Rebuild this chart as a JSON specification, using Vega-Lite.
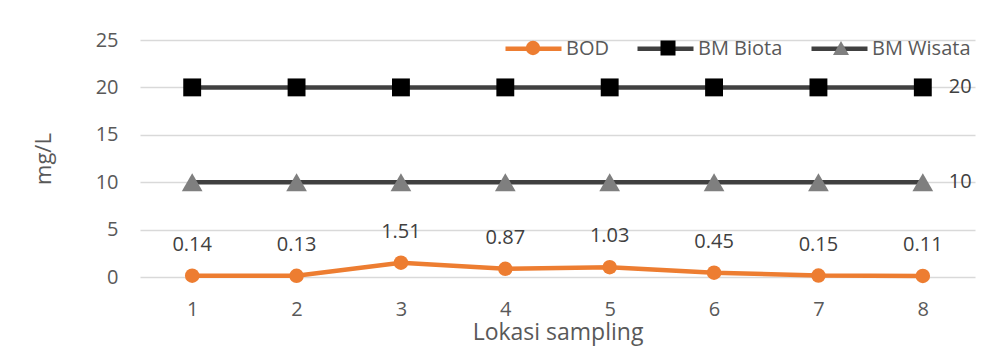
{
  "$schema": "https://vega.github.io/schema/vega-lite/v6.json",
  "autosize": {"type": "none"},
  "padding": {"left": 140, "top": 40, "right": 21, "bottom": 86},
  "width": 835,
  "height": 237,
  "background": "white",
  "config": {
    "view": {"stroke": null},
    "font": "Open Sans",
    "axis": {"labelFont": "Open Sans", "titleFont": "Open Sans", "labelColor": "#595959", "titleColor": "#595959", "titleFontWeight": "normal"},
    "legend": {"labelFont": "Open Sans"}
  },
  "data": {
    "values": [
      {"loc": 1, "series": "BOD", "value": 0.14},
      {"loc": 2, "series": "BOD", "value": 0.13},
      {"loc": 3, "series": "BOD", "value": 1.51},
      {"loc": 4, "series": "BOD", "value": 0.87},
      {"loc": 5, "series": "BOD", "value": 1.03},
      {"loc": 6, "series": "BOD", "value": 0.45},
      {"loc": 7, "series": "BOD", "value": 0.15},
      {"loc": 8, "series": "BOD", "value": 0.11},
      {"loc": 1, "series": "BM Biota", "value": 20},
      {"loc": 2, "series": "BM Biota", "value": 20},
      {"loc": 3, "series": "BM Biota", "value": 20},
      {"loc": 4, "series": "BM Biota", "value": 20},
      {"loc": 5, "series": "BM Biota", "value": 20},
      {"loc": 6, "series": "BM Biota", "value": 20},
      {"loc": 7, "series": "BM Biota", "value": 20},
      {"loc": 8, "series": "BM Biota", "value": 20},
      {"loc": 1, "series": "BM Wisata", "value": 10},
      {"loc": 2, "series": "BM Wisata", "value": 10},
      {"loc": 3, "series": "BM Wisata", "value": 10},
      {"loc": 4, "series": "BM Wisata", "value": 10},
      {"loc": 5, "series": "BM Wisata", "value": 10},
      {"loc": 6, "series": "BM Wisata", "value": 10},
      {"loc": 7, "series": "BM Wisata", "value": 10},
      {"loc": 8, "series": "BM Wisata", "value": 10}
    ]
  },
  "encoding": {
    "x": {
      "field": "loc", "type": "ordinal",
      "scale": {"type": "point", "padding": 0.5},
      "axis": {"labelAngle": 0, "domain": false, "ticks": false, "labelFontSize": 20, "labelPadding": 22, "title": "Lokasi sampling", "titleFontSize": 23, "titlePadding": 2}
    },
    "y": {
      "field": "value", "type": "quantitative",
      "scale": {"domain": [0, 25], "nice": false},
      "axis": {"values": [0, 5, 10, 15, 20, 25], "domain": false, "ticks": false, "gridColor": "#D9D9D9", "gridWidth": 1.3, "labelFontSize": 20, "labelPadding": 22, "title": "mg/L", "titleFontSize": 22, "titlePadding": 40}
    }
  },
  "layer": [
    {
      "mark": {"type": "line", "strokeWidth": 4.5},
      "encoding": {
        "stroke": {
          "field": "series", "type": "nominal",
          "scale": {"domain": ["BOD", "BM Biota", "BM Wisata"], "range": ["#ED7D31", "#404040", "#404040"]},
          "legend": {"title": null, "orient": "none", "direction": "horizontal", "legendX": 363, "legendY": -22, "symbolType": "stroke", "symbolSize": 3136, "symbolStrokeWidth": 4.5, "labelFontSize": 20, "labelColor": "#595959", "labelOffset": 2, "columnPadding": 19, "padding": 0}
        }
      }
    },
    {
      "mark": {"type": "point", "filled": true, "opacity": 1},
      "encoding": {
        "fill": {
          "field": "series", "type": "nominal",
          "sort": ["BOD", "BM Biota", "BM Wisata"],
          "scale": {"range": ["#ED7D31", "#000000", "#7F7F7F"]},
          "legend": {"title": null, "values": ["BM Wisata"], "orient": "none", "legendX": 691, "legendY": -2, "symbolType": "triangle-up", "symbolSize": 256, "symbolStrokeWidth": 0, "labelFontSize": 20, "labelColor": "transparent", "labelOffset": 2, "padding": 0}
        },
        "shape": {
          "field": "series", "type": "nominal",
          "sort": ["BOD", "BM Biota", "BM Wisata"],
          "scale": {"range": ["circle", "square", "triangle-up"]},
          "legend": {"title": null, "values": ["BM Biota"], "orient": "none", "legendX": 518, "legendY": -2, "symbolSize": 225, "symbolStrokeWidth": 0, "symbolFillColor": "#000000", "labelFontSize": 20, "labelColor": "transparent", "labelOffset": 2, "padding": 0}
        },
        "size": {
          "field": "series", "type": "nominal",
          "sort": ["BOD", "BM Biota", "BM Wisata"],
          "scale": {"range": [210, 430, 560]},
          "legend": {"title": null, "values": ["BOD"], "orient": "none", "legendX": 383, "legendY": -2, "symbolType": "circle", "symbolStrokeWidth": 0, "symbolFillColor": "#ED7D31", "labelFontSize": 20, "labelColor": "transparent", "labelOffset": 2, "padding": 0}
        }
      }
    },
    {
      "transform": [{"filter": "datum.series === 'BOD'"}],
      "mark": {"type": "text", "dy": -31, "fontSize": 20, "color": "#404040", "font": "Open Sans"},
      "encoding": {
        "text": {"field": "value", "type": "quantitative", "format": ".2f"}
      }
    },
    {
      "transform": [{"filter": "datum.series !== 'BOD' && datum.loc === 8"}],
      "mark": {"type": "text", "dx": 26, "align": "left", "fontSize": 20, "color": "#404040", "font": "Open Sans"},
      "encoding": {
        "text": {"field": "value", "type": "quantitative", "format": "d"}
      }
    }
  ]
}
